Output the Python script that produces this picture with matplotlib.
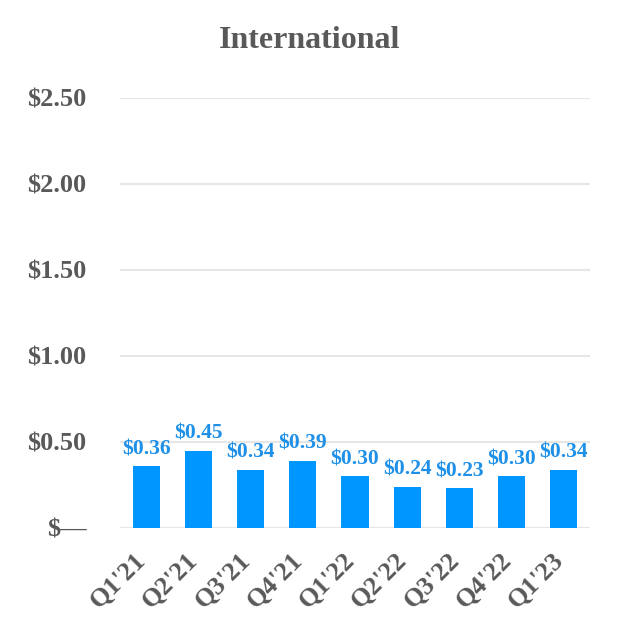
import matplotlib
matplotlib.use("Agg")
import matplotlib.pyplot as plt
import matplotlib.transforms as mtransforms

quarters = ["Q1'21", "Q2'21", "Q3'21", "Q4'21", "Q1'22", "Q2'22", "Q3'22", "Q4'22", "Q1'23"]
values = [0.36, 0.45, 0.34, 0.39, 0.30, 0.24, 0.23, 0.30, 0.34]
yticks = [0, 0.5, 1.0, 1.5, 2.0, 2.5]
ytick_labels = ["$\u2014", "$0.50", "$1.00", "$1.50", "$2.00", "$2.50"]

plt.rcParams['font.family'] = ['Liberation Serif', 'DejaVu Serif']
gray = '#595959'
blue = '#0096FF'

fig = plt.figure(figsize=(6.2, 6.4), dpi=100)
ax = fig.add_axes([120 / 620, 1 - 528 / 640, 470 / 620, 430 / 640])

x = range(len(quarters))
ax.bar(x, values, width=0.52, color=blue, zorder=2)
for xi, v in zip(x, values):
    ax.annotate(f"${v:.2f}", (xi, v), xytext=(0, 5), textcoords='offset points',
                ha='center', va='bottom', color='#1E90E8',
                fontsize=15.5, fontweight='bold')

ax.set_xlim(-0.5, len(quarters) - 0.5)
ax.set_ylim(0, 2.5)
ax.set_yticks(yticks)
ax.set_yticklabels(ytick_labels, fontsize=19, fontweight='bold', color=gray)
ax.set_xticks(list(x))
ax.set_xticklabels(quarters, rotation=45, ha='right', rotation_mode='anchor',
                   fontsize=19, fontweight='bold', color=gray)
ax.tick_params(axis='both', length=0)
ax.tick_params(axis='y', pad=24)
ax.tick_params(axis='x', pad=15)

# nudge the slanted quarter labels left so they end under the bar centres
shift = mtransforms.ScaledTranslation(-0.12, 0, fig.dpi_scale_trans)
for lab in ax.get_xticklabels():
    lab.set_transform(lab.get_transform() + shift)

ax.grid(axis='y', color='#E6E6E6', linewidth=1.5, zorder=0)
for s in ax.spines.values():
    s.set_visible(False)

fig.text(0.5, 1 - 41 / 640, "International", ha='center', va='center',
         fontsize=23, fontweight='bold', color=gray)

fig.savefig("out.png", dpi=100)
